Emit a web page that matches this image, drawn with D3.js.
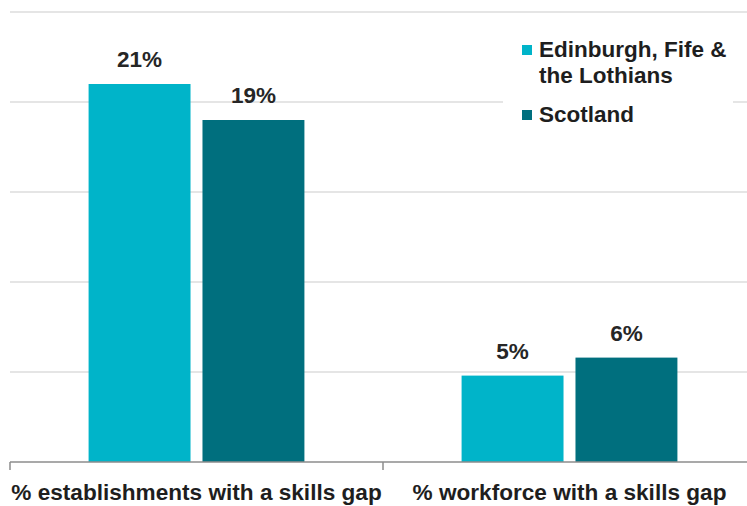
<!DOCTYPE html>
<html>
<head>
<meta charset="utf-8">
<script src="https://cdn.jsdelivr.net/npm/d3@7"></script>
<style>
    body { margin: 0; background: #fff; }
    svg { display: block; font-family: "Liberation Sans", Arial, sans-serif; }
</style>
</head>
<body>
<script>
const categories = ["% establishments with a skills gap", "% workforce with a skills gap"]
const seriesNames = ["Edinburgh, Fife & the Lothians", "Scotland"]
const edinburgh = [21, 4.8]
const scotland = [19, 5.8]
const yTicks = [0, 5, 10, 15, 20, 25]

const WIDTH = 747
const HEIGHT = 506
const COLORS = ["#00b4c9", "#006f7e"]

const svg = d3.select("body")
    .append("svg")
    .attr("width", WIDTH)
    .attr("height", HEIGHT)

const x0 = d3.scaleBand()
    .domain(categories)
    .range([10, 756])

const x1 = d3.scaleBand()
    .domain(seriesNames)
    .range([0, x0.bandwidth()])
    .paddingInner(0.105)
    .paddingOuter(0.69)

const y = d3.scaleLinear()
    .domain([0, 25])
    .range([462, 12])

// gridlines
svg.append("g")
    .selectAll("line")
    .data(yTicks.filter(d => d > 0))
    .enter()
    .append("line")
    .attr("x1", 10)
    .attr("x2", WIDTH)
    .attr("y1", d => y(d))
    .attr("y2", d => y(d))
    .attr("stroke", "#dcdcdc")
    .attr("stroke-width", 1.5)

const rows = categories.map((c, i) => ({ cat: c, values: [edinburgh[i], scotland[i]] }))

const groups = svg.selectAll(".grp")
    .data(rows)
    .enter()
    .append("g")
    .attr("transform", d => "translate(" + x0(d.cat) + ",0)")

groups.selectAll("rect")
    .data(d => d.values.map((v, j) => ({ s: seriesNames[j], v: v, j: j })))
    .enter()
    .append("rect")
    .attr("x", d => x1(d.s))
    .attr("width", x1.bandwidth())
    .attr("y", d => y(d.v))
    .attr("height", d => y(0) - y(d.v))
    .attr("fill", d => COLORS[d.j])

groups.selectAll(".lbl")
    .data(d => d.values.map((v, j) => ({ s: seriesNames[j], v: v })))
    .enter()
    .append("text")
    .attr("x", d => x1(d.s) + x1.bandwidth() / 2)
    .attr("y", d => y(d.v) - 17)
    .attr("text-anchor", "middle")
    .style("font-size", "22.5px")
    .style("font-weight", "bold")
    .style("fill", "#262626")
    .text(d => d3.format(".0f")(d.v) + "%")

// x axis
const xAxis = d3.axisBottom(x0).tickSize(0).tickFormat("")
const axisG = svg.append("g")
    .attr("transform", "translate(0,462)")
    .call(xAxis)
axisG.select(".domain").remove()
axisG.append("line")
    .attr("x1", 10).attr("x2", WIDTH)
    .attr("stroke", "#8c8c8c").attr("stroke-width", 1.5)
axisG.selectAll(".sep")
    .data(categories)
    .enter()
    .append("line")
    .attr("x1", d => x0(d)).attr("x2", d => x0(d))
    .attr("y1", 0).attr("y2", 8)
    .attr("stroke", "#8c8c8c").attr("stroke-width", 1.5)

svg.selectAll(".cat")
    .data(categories)
    .enter()
    .append("text")
    .attr("x", d => x0(d) + x0.bandwidth() / 2)
    .attr("y", 500)
    .attr("text-anchor", "middle")
    .style("font-size", "22.6px")
    .style("font-weight", "bold")
    .style("fill", "#1e1e1e")
    .text(d => d)

// legend
const legend = svg.append("g")
const legendLines = [["Edinburgh, Fife &", "the Lothians"], ["Scotland"]]
legend.append("rect")
    .attr("x", 503).attr("y", 30)
    .attr("width", 230).attr("height", 100)
    .attr("fill", "#fff")
const legendY = [45, 110]
seriesNames.forEach((s, i) => {
    legend.append("rect")
        .attr("x", 522).attr("y", legendY[i])
        .attr("width", 10).attr("height", 10)
        .attr("fill", COLORS[i])
    legend.append("text")
        .attr("x", 539)
        .attr("y", legendY[i] + 12)
        .style("font-size", "22.5px")
        .style("font-weight", "bold")
        .style("fill", "#1e1e1e")
        .selectAll("tspan")
        .data(legendLines[i])
        .enter()
        .append("tspan")
        .attr("x", 539)
        .attr("dy", (d, k) => k === 0 ? 0 : 26)
        .text(d => d)
})
</script>
</body>
</html>
